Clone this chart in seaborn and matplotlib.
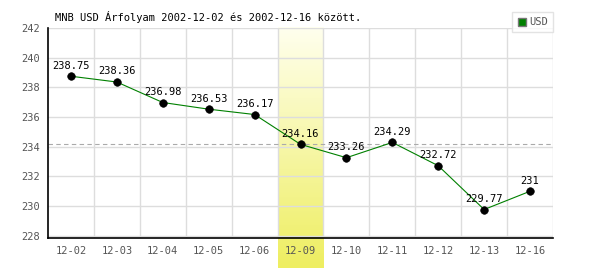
import numpy as np
import pandas as pd
import matplotlib
matplotlib.use("Agg")
import matplotlib.pyplot as plt
import matplotlib.patches as mpatches
import seaborn as sns

dates = ["12-02", "12-03", "12-04", "12-05", "12-06", "12-09",
         "12-10", "12-11", "12-12", "12-13", "12-16"]
usd = [238.75, 238.36, 236.98, 236.53, 236.17, 234.16,
       233.26, 234.29, 232.72, 229.77, 231.00]
highlight_idx = 5
ref_value = 234.16
yticks = [228, 230, 232, 234, 236, 238, 240, 242]
title = "MNB USD Árfolyam 2002-12-02 és 2002-12-16 között."

sns.set_theme(style="white")
plt.rcParams['font.family'] = ['DejaVu Sans Mono', 'DejaVu Sans']

df = pd.DataFrame({"x": np.arange(len(dates)), "date": dates, "usd": usd})

fig = plt.figure(figsize=(6, 2.7), dpi=100)
ax = fig.add_axes([48/600, 1 - 238/270, 505/600, 210/270])
ax.set_facecolor("white")

ylo, yhi = 227.85, 242.0
# gradient highlight band
grad = np.linspace(0, 1, 256).reshape(-1, 1)
top = np.array([255, 255, 238]) / 255
bot = np.array([238, 238, 96]) / 255
img = top[None, None, :] * (1 - grad[..., None]) + bot[None, None, :] * grad[..., None]
ax.imshow(img, extent=(highlight_idx - 0.5, highlight_idx + 0.5, ylo - 2.05, yhi),
          aspect='auto', origin='upper', clip_on=False, zorder=0)

# grid
for v in yticks:
    ax.axhline(v, color="#dddddd", lw=1, zorder=1)
for i in range(len(dates)):
    ax.axvline(i + 0.5, color="#dddddd", lw=1, zorder=1)
ax.axhline(ref_value, color="#aaaaaa", lw=0.8, ls=(0, (4, 3)), zorder=1)

sns.lineplot(data=df, x="x", y="usd", color="green", lw=0.8, ax=ax, zorder=3)
sns.scatterplot(data=df, x="x", y="usd", color="black", s=30, edgecolor="black",
                ax=ax, zorder=4)
for xi, v in zip(df["x"], df["usd"]):
    ax.annotate(f"{v:g}", (xi, v), xytext=(0, 4), textcoords="offset points",
                ha="center", va="bottom", fontsize=7.5, color="black", zorder=5)

ax.set_xlim(-0.5, len(dates) - 0.5)
ax.set_ylim(ylo, yhi)
ax.set_xticks(df["x"])
ax.set_xticklabels(dates)
ax.set_yticks(yticks)
ax.set_xlabel("")
ax.set_ylabel("")
ax.tick_params(axis="both", labelsize=7.5, colors="#555555", length=0, pad=6)
for s in ["top", "right"]:
    ax.spines[s].set_visible(False)
for s in ["left", "bottom"]:
    ax.spines[s].set_color("black")
    ax.spines[s].set_linewidth(1.2)

fig.text(55/600, 1 - 17/270, title, fontsize=7.5, color="black", ha="left", va="center")

handle = mpatches.Patch(facecolor="green", edgecolor="#777777", label="USD")
leg = fig.legend(handles=[handle], loc="upper right",
                 bbox_to_anchor=(553/600, 1 - 12/270), fontsize=7.5,
                 frameon=True, fancybox=False, edgecolor="#dddddd",
                 handlelength=0.8, handleheight=0.8, handletextpad=0.3,
                 borderpad=0.5, borderaxespad=0)
for t in leg.get_texts():
    t.set_color("#555555")
leg.get_frame().set_linewidth(1)

fig.savefig("out.png", dpi=100)
